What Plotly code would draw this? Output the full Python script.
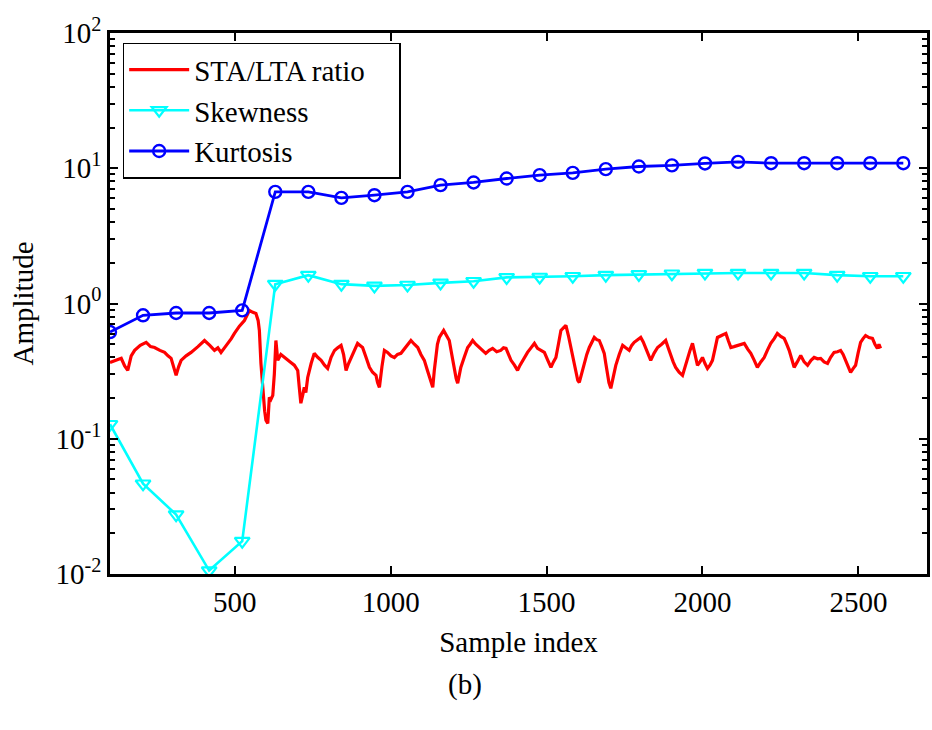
import plotly.graph_objects as go

# ---- data ----
sta_x = [100, 118, 136, 147, 157, 168, 179, 197, 216, 230, 243, 260, 275, 286, 296, 304, 312, 320, 328, 344,
         360, 382, 403, 420, 435, 446, 456, 467, 478, 489, 499, 515, 531, 540, 547, 558, 568, 575, 579, 584,
         590, 596, 600, 606, 611, 616, 622, 627, 632, 638, 648, 659, 670, 680, 691, 702, 707, 712, 718, 723,
         728, 734, 745, 755, 766, 777, 788, 798, 809, 820, 830, 841, 849, 857, 865, 873, 884, 894, 902, 910,
         921, 932, 942, 953, 958, 964, 972, 980, 990, 1001, 1012, 1022, 1033, 1041, 1049, 1057, 1065, 1076, 1087, 1097,
         1108, 1118, 1129, 1135, 1140, 1145, 1150, 1156, 1163, 1170, 1179, 1188, 1196, 1204, 1210, 1215, 1220, 1225, 1236, 1247,
         1255, 1263, 1273, 1284, 1295, 1305, 1316, 1327, 1340, 1353, 1362, 1370, 1378, 1386, 1397, 1407, 1415, 1423, 1431, 1439,
         1450, 1461, 1471, 1482, 1493, 1504, 1514, 1522, 1530, 1538, 1546, 1554, 1562, 1570, 1578, 1586, 1594, 1600, 1605, 1613,
         1621, 1629, 1637, 1645, 1653, 1661, 1669, 1677, 1685, 1690, 1695, 1700, 1706, 1714, 1722, 1733, 1744, 1754, 1765, 1773,
         1781, 1792, 1802, 1810, 1818, 1826, 1834, 1845, 1856, 1869, 1882, 1890, 1898, 1906, 1914, 1925, 1936, 1944, 1952, 1960,
         1968, 1976, 1984, 1992, 2000, 2008, 2016, 2024, 2032, 2040, 2048, 2061, 2075, 2083, 2091, 2101, 2112, 2123, 2134, 2145,
         2155, 2166, 2176, 2187, 2198, 2208, 2219, 2230, 2240, 2251, 2262, 2270, 2278, 2286, 2294, 2304, 2315, 2326, 2337, 2348,
         2358, 2369, 2379, 2390, 2401, 2411, 2422, 2433, 2443, 2451, 2459, 2467, 2475, 2483, 2491, 2499, 2507, 2515, 2523, 2534,
         2545, 2553, 2561, 2566, 2571]
sta_y = [0.367, 0.38, 0.393, 0.345, 0.320, 0.41, 0.450, 0.49, 0.516, 0.48, 0.473, 0.45, 0.435, 0.41, 0.393, 0.34, 0.294, 0.34, 0.380, 0.41,
         0.435, 0.48, 0.533, 0.49, 0.450, 0.47, 0.435, 0.47, 0.507, 0.55, 0.601, 0.68, 0.749, 0.82, 0.888, 0.86, 0.844, 0.75, 0.632, 0.361,
         0.228, 0.16, 0.137, 0.130, 0.202, 0.195, 0.209, 0.30, 0.533, 0.380, 0.42, 0.399, 0.38, 0.367, 0.35, 0.320, 0.24, 0.183, 0.21, 0.240,
         0.22, 0.284, 0.36, 0.428, 0.40, 0.380, 0.35, 0.331, 0.40, 0.450, 0.47, 0.490, 0.42, 0.320, 0.36, 0.399, 0.46, 0.507, 0.49, 0.473,
         0.40, 0.337, 0.31, 0.294, 0.26, 0.240, 0.34, 0.450, 0.435, 0.41, 0.399, 0.42, 0.428, 0.45, 0.473, 0.50, 0.533, 0.50, 0.473, 0.42,
         0.380, 0.32, 0.270, 0.240, 0.32, 0.428, 0.50, 0.561, 0.60, 0.632, 0.58, 0.533, 0.42, 0.320, 0.28, 0.257, 0.29, 0.337, 0.40, 0.473,
         0.50, 0.533, 0.50, 0.473, 0.45, 0.428, 0.45, 0.466, 0.44, 0.450, 0.47, 0.466, 0.42, 0.380, 0.35, 0.320, 0.35, 0.380, 0.41, 0.435,
         0.47, 0.507, 0.466, 0.45, 0.435, 0.38, 0.337, 0.37, 0.399, 0.50, 0.632, 0.66, 0.688, 0.58, 0.473, 0.37, 0.304, 0.27, 0.261, 0.31,
         0.361, 0.42, 0.473, 0.52, 0.561, 0.54, 0.533, 0.48, 0.428, 0.36, 0.304, 0.26, 0.236, 0.29, 0.349, 0.42, 0.490, 0.47, 0.450, 0.49,
         0.516, 0.54, 0.561, 0.52, 0.473, 0.42, 0.380, 0.43, 0.473, 0.50, 0.533, 0.47, 0.413, 0.37, 0.337, 0.31, 0.294, 0.34, 0.399, 0.45,
         0.507, 0.42, 0.349, 0.37, 0.399, 0.36, 0.331, 0.35, 0.380, 0.46, 0.561, 0.58, 0.601, 0.53, 0.473, 0.48, 0.490, 0.50, 0.507, 0.46,
         0.428, 0.38, 0.337, 0.37, 0.399, 0.45, 0.507, 0.55, 0.601, 0.57, 0.552, 0.50, 0.450, 0.39, 0.337, 0.37, 0.413, 0.37, 0.349, 0.38,
         0.399, 0.39, 0.393, 0.37, 0.361, 0.40, 0.435, 0.44, 0.450, 0.42, 0.380, 0.34, 0.310, 0.33, 0.349, 0.43, 0.516, 0.55, 0.580, 0.56,
         0.552, 0.50, 0.466, 0.50, 0.466]

win_x = [100, 206, 312, 418, 524, 630, 736, 842, 948, 1054, 1160, 1266, 1372, 1478, 1584, 1690, 1796, 1902,
         2008, 2114, 2220, 2326, 2432, 2538, 2644]
skew_y = [0.128, 0.0465, 0.0275, 0.0106, 0.0175, 1.39, 1.62, 1.39, 1.35, 1.37, 1.42, 1.46, 1.56, 1.57, 1.59,
          1.62, 1.64, 1.66, 1.68, 1.68, 1.68, 1.68, 1.62, 1.59, 1.59]
kurt_y = [0.615, 0.818, 0.851, 0.851, 0.890, 6.69, 6.69, 6.04, 6.32, 6.69, 7.50, 7.85, 8.40, 8.89, 9.25,
          9.85, 10.3, 10.5, 10.85, 11.15, 10.9, 10.9, 10.9, 10.9, 10.9]

x_ticks = [500, 1000, 1500, 2000, 2500]
y_ticks = [0.01, 0.1, 1, 10, 100]
y_ticktext = ["10<sup>-2</sup>", "10<sup>-1</sup>", "10<sup>0</sup>", "10<sup>1</sup>", "10<sup>2</sup>"]

FONT = "Liberation Serif"
FS = 29
PAD = "\u00a0" * 4  # trailing padding so the legend box is as wide as the reference

fig = go.Figure()
fig.add_trace(go.Scatter(x=sta_x, y=sta_y, mode="lines", name="STA/LTA ratio" + PAD,
                         line=dict(color="#FF0000", width=3.2), legendgroup="a"))
fig.add_trace(go.Scatter(x=win_x, y=skew_y, mode="lines+markers", name="Skewness",
                         line=dict(color="#00FFFF", width=2.6),
                         marker=dict(symbol="triangle-down-open", size=13, color="#00FFFF",
                                     line=dict(width=2.2, color="#00FFFF")), legendgroup="b"))
fig.add_trace(go.Scatter(x=win_x, y=kurt_y, mode="lines+markers", name="Kurtosis",
                         line=dict(color="#0000FF", width=2.8),
                         marker=dict(symbol="circle-open", size=12, color="#0000FF",
                                     line=dict(width=2.4, color="#0000FF")), legendgroup="c"))

minor_vals = [m * 10 ** e for e in (-2, -1, 0, 1) for m in range(2, 10)]

fig.update_xaxes(range=[100, 2720], tickvals=x_ticks, ticks="inside", ticklen=8, tickwidth=2,
                 tickcolor="black", showline=True, linewidth=2.5, linecolor="black", mirror="ticks",
                 showgrid=False, zeroline=False,
                 title=dict(text="Sample index", font=dict(size=FS, family=FONT, color="black"), standoff=16),
                 tickfont=dict(size=FS, family=FONT, color="black"))
fig.update_yaxes(type="log", range=[-2, 2], tickvals=y_ticks, ticktext=y_ticktext, ticks="inside",
                 ticklen=8, tickwidth=2, tickcolor="black", showline=True, linewidth=2.5,
                 linecolor="black", mirror="ticks", showgrid=False, zeroline=False,
                 minor=dict(tickvals=minor_vals, ticks="inside", ticklen=5, tickwidth=1.5,
                            tickcolor="black", showgrid=False),
                 title=dict(text="Amplitude", font=dict(size=FS, family=FONT, color="black"), standoff=14),
                 tickfont=dict(size=FS, family=FONT, color="black"))

fig.update_layout(
    width=932, height=730,
    margin=dict(l=110, r=2, t=33, b=156),
    paper_bgcolor="white", plot_bgcolor="white",
    font=dict(family=FONT, size=FS, color="black"),
    legend=dict(x=0.0155, y=0.982, xanchor="left", yanchor="top",
                bgcolor="white", bordercolor="black", borderwidth=1.5,
                font=dict(size=FS, family=FONT, color="black"),
                itemwidth=60, tracegroupgap=0, traceorder="grouped"),
    annotations=[dict(text="(b)", x=0.434, y=-0.205, xref="paper", yref="paper",
                      xanchor="center", yanchor="middle", showarrow=False,
                      font=dict(size=FS, family=FONT, color="black"))],
)

fig.write_html("out.html")
